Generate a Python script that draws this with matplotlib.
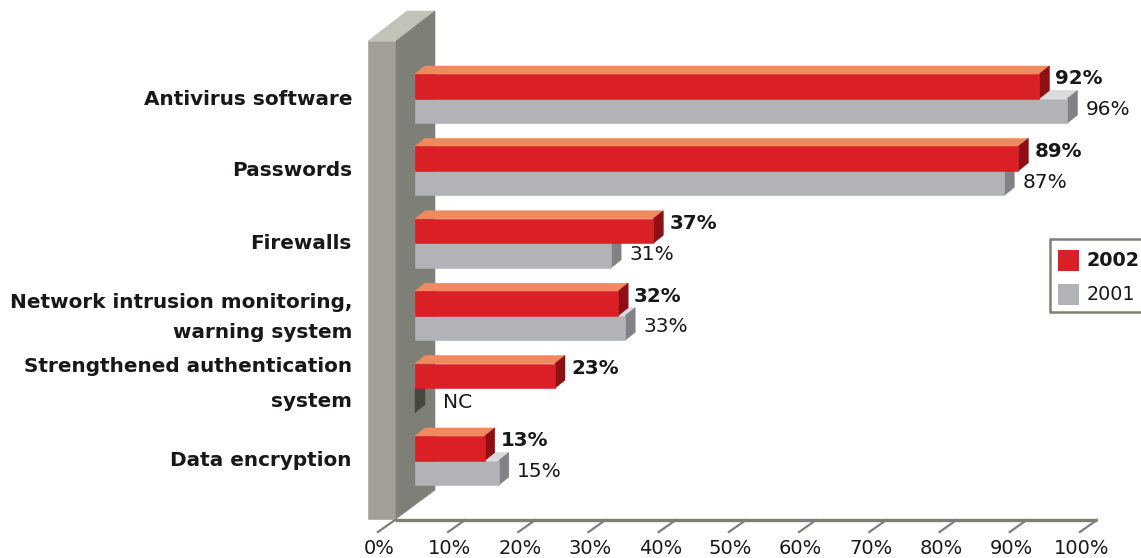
import matplotlib
matplotlib.use("Agg")
import matplotlib.pyplot as plt
from matplotlib.patches import Polygon, Rectangle

# survey data: share of companies using each security technology
categories = ["Antivirus software", "Passwords", "Firewalls",
              "Network intrusion monitoring,\nwarning system",
              "Strengthened authentication\nsystem", "Data encryption"]
y2002 = [92, 89, 37, 32, 23, 13]
y2001 = [96, 87, 31, 33, None, 15]     # None = not collected (NC)
ticks = [0, 10, 20, 30, 40, 50, 60, 70, 80, 90, 100]
years = ["2002", "2001"]

W, H = 1141, 558
X0, SX = 393.5, 7.02          # pixel position of 0% and pixels per percent


def v(px):
    # horizontal pixel -> percent units of the axes
    return (px - X0) / SX


fig = plt.figure(figsize=(W / 100, H / 100), dpi=100)
ax = fig.add_axes([0, 0, 1, 1])
ax.set_xlim(v(0), v(W))
ax.set_ylim(H, 0)
ax.axis("off")

ink = "#1a1718"
red = ("#da1f26", "#f08a5d", "#8e0f14")      # front, top, side
grey = ("#b1b3b6", "#d9dadb", "#808285")
wallc = ("#a29f97", "#c3c4b8", "#7e8078")

DX, DY = 10 / SX, 8          # bar depth
def face(pts, c, z=2):
    ax.add_patch(Polygon(pts, closed=True, fc=c, ec=c, lw=0.4, zorder=z))


def bar3d(x0, x1, ytop, h, cols, z=2):
    front, top, side = cols
    face([(x0, ytop), (x1, ytop), (x1 + DX, ytop - DY), (x0 + DX, ytop - DY)], top, z)
    face([(x1, ytop), (x1 + DX, ytop - DY), (x1 + DX, ytop + h - DY), (x1, ytop + h)], side, z)
    ax.add_patch(Rectangle((x0, ytop), x1 - x0, h, fc=front, ec=front, lw=0.4, zorder=z))


# back wall
wl, wr, wd = v(368), v(396), v(435) - v(396)
face([(wl, 41), (wr, 41), (wr, 519), (wl, 519)], wallc[0], 1)
face([(wl, 41), (wr, 41), (wr + wd, 11), (wl + wd, 11)], wallc[1], 1)
face([(wr, 41), (wr + wd, 11), (wr + wd, 490), (wr, 519)], wallc[2], 1)

# floor line and slanted ticks
ax.plot([v(395), v(1097)], [520, 520], color=wallc[2], lw=2.4,
        solid_capstyle="butt", zorder=1)
tdx = 17 / SX
for t in ticks:
    ax.plot([t + 0.2, t + 0.2 - tdx], [520, 532], color=wallc[2], lw=1.6, zorder=1)
    ax.text(t - 14 / SX, 548, f"{t}%", ha="center", va="center",
            fontsize=14, color=ink)

# bars
start = v(415)
row0, pitch, bh = 74, 72.4, 24.5
spacing = [1.35, 1.35, 1.35, 1.74, 2.08, 1.35]
shift = [1, 0, 0, 2, -4, 0]
for i, (cat, a, b) in enumerate(zip(categories, y2002, y2001)):
    yt = row0 + pitch * i
    if b is None:
        face([(start, yt + bh), (start + DX, yt + bh - DY),
              (start + DX, yt + 2 * bh - DY), (start, yt + 2 * bh)], "#45483c", 2)
        ax.text(start + DX + 18 / SX, yt + bh + 14, "NC", ha="left",
                va="center", fontsize=14.5, color=ink)
    else:
        bar3d(start, b, yt + bh, bh, grey)
        ax.text(b + DX + 8 / SX, yt + 1.5 * bh - 1, f"{b}%", ha="left",
                va="center", fontsize=14.5, color=ink)
    bar3d(start, a, yt, bh, red, 3)
    ax.text(a + DX + 6 / SX, yt + 5, f"{a}%", ha="left", va="center",
            fontsize=14.3, fontweight="bold", color=ink)
    ax.text(v(352), yt + bh + shift[i], cat, ha="right", va="center",
            fontsize=14.4, fontweight="bold", color=ink,
            linespacing=spacing[i])

# legend box, runs off the right edge
ax.add_patch(Rectangle((v(1050), 239), v(1150) - v(1050), 73, fc="white",
                       ec=wallc[2], lw=1.8, zorder=4))
for (yy, c, yr, fw) in [(250, red[0], years[0], "bold"), (284, grey[0], years[1], "normal")]:
    ax.add_patch(Rectangle((v(1058), yy), v(1079) - v(1058), 21, fc=c, ec="none", zorder=5))
    ax.text(v(1087), yy + 11, yr, ha="left", va="center", fontsize=13.8,
            fontweight=fw, color=ink, zorder=5)

fig.savefig("out.png", dpi=100)
